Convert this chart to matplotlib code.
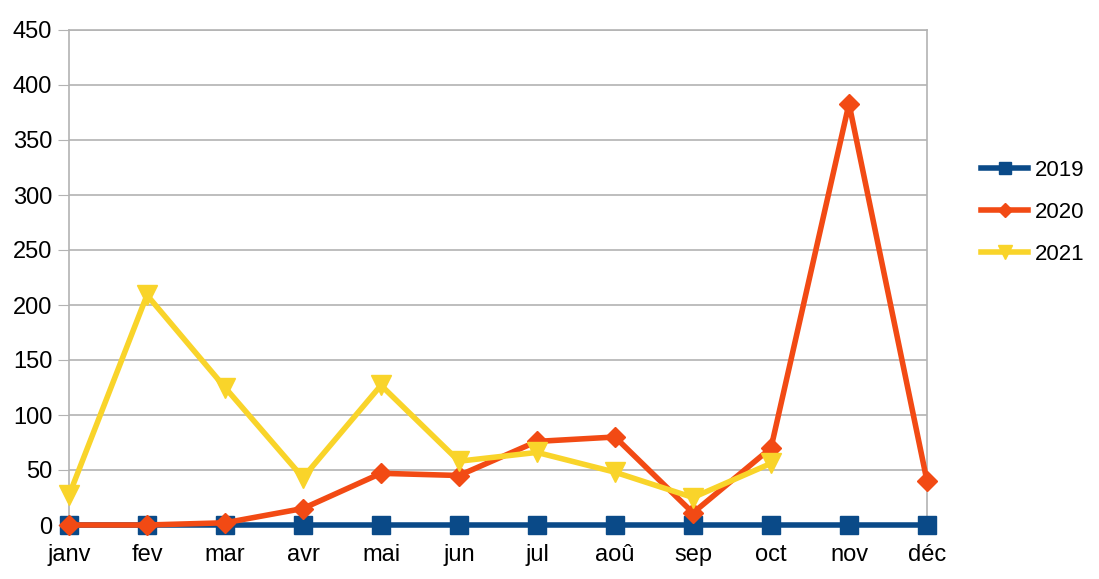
import matplotlib
matplotlib.use('Agg')
import matplotlib.pyplot as plt
import numpy as np

plt.rcParams['font.family'] = ['Liberation Sans Narrow', 'Liberation Sans', 'DejaVu Sans']

months = ['janv', 'fev', 'mar', 'avr', 'mai', 'jun', 'jul', 'aoû', 'sep', 'oct', 'nov', 'déc']
v2019 = [0, 0, 0, 0, 0, 0, 0, 0, 0, 0, 0, 0]
v2020 = [0, 0, 2, 15, 47, 45, 76, 80, 11, 70, 383, 40]
v2021 = [27, 209, 125, 43, 127, 58, 66, 48, 25, 56, np.nan, np.nan]

fig = plt.figure(figsize=(10.99, 5.79), dpi=100)
ax = fig.add_axes([69 / 1099, 1 - 525 / 579, (927 - 69) / 1099, (525 - 30) / 579])

x = np.arange(len(months))
ax.plot(x, v2019, color='#0a4a88', lw=4, marker='s', ms=13, label='2019', clip_on=False, zorder=3)
ax.plot(x, v2020, color='#f24a14', lw=4, marker='D', ms=10, label='2020', clip_on=False, zorder=4)
ax.plot(x, v2021, color='#f9d42a', lw=4, marker='v', ms=14, label='2021', clip_on=False, zorder=5)

ax.set_xlim(0, 11)
ax.set_ylim(0, 450)
ax.set_yticks(range(0, 451, 50))
ax.set_xticks(x)
ax.set_xticklabels(months)
ax.grid(axis='y', color='#b3b3b3', lw=1.2)
ax.set_axisbelow(True)
for s in ax.spines.values():
    s.set_color('#b3b3b3')
    s.set_linewidth(1.2)
ax.tick_params(axis='y', length=8, color='#b3b3b3', labelsize=17, pad=4)
ax.tick_params(axis='x', length=0, labelsize=17, pad=14)

ax.legend(loc='center left', bbox_to_anchor=(1.053, 0.632), frameon=False, fontsize=16,
          handlelength=2.1, labelspacing=0.95, handletextpad=0.3, markerscale=0.7,
          borderaxespad=0)

fig.savefig('out.png', dpi=100)
